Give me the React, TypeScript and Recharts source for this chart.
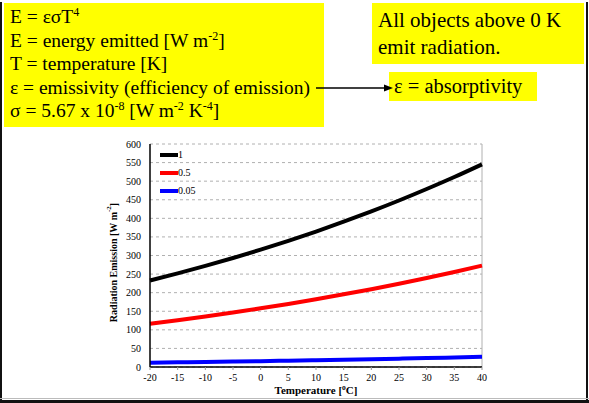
import React from "react";
import {
  LineChart,
  Line,
  XAxis,
  YAxis,
  CartesianGrid,
  ReferenceLine,
} from "recharts";

const temperatures = [-20, -15, -10, -5, 0, 5, 10, 15, 20, 25, 30, 35, 40];
const emis1 = [232.8, 251.8, 271.9, 293.2, 315.6, 339.4, 364.5, 390.9, 418.7, 448.0, 478.9, 511.2, 545.3];
const emis05 = [116.4, 125.9, 136.0, 146.6, 157.8, 169.7, 182.3, 195.5, 209.4, 224.0, 239.4, 255.6, 272.7];
const emis005 = [11.6, 12.6, 13.6, 14.7, 15.8, 17.0, 18.2, 19.5, 20.9, 22.4, 23.9, 25.6, 27.3];
const yTicks = [0, 50, 100, 150, 200, 250, 300, 350, 400, 450, 500, 550, 600];
const xTicks = [-20, -15, -10, -5, 0, 5, 10, 15, 20, 25, 30, 35, 40];
const seriesNames = ["1", "0.5", "0.05"];
const seriesColors = ["#000000", "#ff0000", "#0000ff"];

const data = temperatures.map((t, i) => ({
  t,
  s1: emis1[i],
  s05: emis05[i],
  s005: emis005[i],
}));

const SERIF = "Liberation Serif, Tinos, Times New Roman, DejaVu Serif Condensed, DejaVu Serif, serif";

const YLabel = (props: any) => {
  const vb = props.viewBox || {};
  const cx = 113;
  const cy = vb.y + vb.height / 2 + 7;
  return (
    <text
      x={cx}
      y={cy}
      transform={`rotate(-90, ${cx}, ${cy})`}
      textAnchor="middle"
      dominantBaseline="central"
      style={{ fontFamily: SERIF }}
      fontWeight="bold"
      fontSize={10}
      fill="#000"
    >
      Radiation Emission [W m
      <tspan dy={-4} fontSize={7}>-2</tspan>
      <tspan dy={4}>]</tspan>
    </text>
  );
};

const XLabel = (props: any) => {
  const vb = props.viewBox || {};
  const cx = vb.x + vb.width / 2;
  const cy = 390;
  return (
    <text
      x={cx}
      y={cy}
      textAnchor="middle"
      dominantBaseline="central"
      style={{ fontFamily: SERIF }}
      fontWeight="bold"
      fontSize={11}
      fill="#000"
    >
      Temperature [
      <tspan dy={-3} fontSize={7.5}>o</tspan>
      <tspan dy={3}>C]</tspan>
    </text>
  );
};

const LegendBox = () => (
  <div
    style={{
      position: "absolute",
      left: 160,
      top: 146,
      fontFamily: SERIF,
      fontSize: 10,
      lineHeight: "18px",
    }}
  >
    {seriesNames.map((n, i) => (
      <div key={n} style={{ display: "flex", alignItems: "center", height: 18 }}>
        <div style={{ width: 18, height: 4, background: seriesColors[i] }} />
        <span>{n}</span>
      </div>
    ))}
  </div>
);

const sup = { fontSize: 12, position: "relative", top: -7, lineHeight: 0 } as const;

export default function App() {
  return (
    <div
      style={{
        position: "absolute",
        left: 0,
        top: 0,
        width: 589,
        height: 403,
        background: "#fff",
        overflow: "hidden",
        fontFamily: SERIF,
      }}
    >
      <div style={{ position: "absolute", left: 0, top: 2, width: 2, height: 401, background: "#111" }} />
      <div style={{ position: "absolute", left: 586, top: 2, width: 2, height: 401, background: "#111" }} />
      <div style={{ position: "absolute", left: 0, top: 398, width: 589, height: 1, background: "#bbb" }} />
      <div style={{ position: "absolute", left: 0, top: 400, width: 589, height: 3, background: "#111" }} />

      <div
        style={{
          position: "absolute",
          left: 4,
          top: 3,
          width: 320,
          height: 124,
          background: "#ffff00",
          fontSize: 19.5,
          lineHeight: "23.5px",
          paddingLeft: 6,
          paddingTop: 2,
          boxSizing: "border-box",
          color: "#000",
          whiteSpace: "nowrap",
        }}
      >
        <div>
          E = εσT<span style={sup}>4</span>
        </div>
        <div>
          E = energy emitted [W m<span style={sup}>-2</span>]
        </div>
        <div>T = temperature [K]</div>
        <div>ε = emissivity (efficiency of emission)</div>
        <div>
          σ = 5.67 x 10<span style={sup}>-8</span> [W m<span style={sup}>-2</span> K<span style={sup}>-4</span>]
        </div>
      </div>

      <div
        style={{
          position: "absolute",
          left: 372,
          top: 3,
          width: 212,
          height: 61,
          background: "#ffff00",
          fontSize: 21,
          lineHeight: "27px",
          paddingLeft: 6,
          paddingTop: 4,
          boxSizing: "border-box",
          color: "#000",
          whiteSpace: "nowrap",
        }}
      >
        <div>All objects above 0 K</div>
        <div>emit radiation.</div>
      </div>

      <div
        style={{
          position: "absolute",
          left: 389,
          top: 72,
          width: 148,
          height: 29,
          background: "#ffff00",
          fontSize: 20.5,
          lineHeight: "29px",
          paddingLeft: 5,
          boxSizing: "border-box",
          color: "#000",
          whiteSpace: "nowrap",
        }}
      >
        ε = absorptivity
      </div>

      <svg style={{ position: "absolute", left: 0, top: 0 }} width={589} height={403}>
        <line x1={316} y1={88} x2={386} y2={88} stroke="#000" strokeWidth={1.5} />
        <polygon points="393,88 384,84.5 384,91.5" fill="#000" />
      </svg>

      <div style={{ position: "absolute", left: 0, top: 0 }}>
        <LineChart
          width={589}
          height={403}
          data={data}
          margin={{ top: 144, right: 107, bottom: 6, left: 0 }}
          style={{ fontFamily: SERIF }}
        >
          <CartesianGrid
            horizontal={true}
            vertical={false}
            stroke="#b0b0b0"
            strokeDasharray="3 3"
          />
          <ReferenceLine x={40} stroke="#b0b0b0" strokeWidth={1} />
          <XAxis
            dataKey="t"
            type="number"
            domain={[-20, 40]}
            ticks={xTicks}
            interval={0}
            height={30}
            axisLine={{ stroke: "#000", strokeWidth: 1.5 }}
            tickLine={{ stroke: "#999" }}
            tickSize={3}
            tickMargin={4}
            tick={{ fontSize: 10, fill: "#000", style: { fontFamily: SERIF } }}
            label={<XLabel />}
          />
          <YAxis
            type="number"
            domain={[0, 600]}
            ticks={yTicks}
            interval={0}
            width={150}
            axisLine={{ stroke: "#000", strokeWidth: 1.5 }}
            tickLine={false}
            tickSize={0}
            tickMargin={9}
            tick={{ fontSize: 10, fill: "#000", style: { fontFamily: SERIF } }}
            label={<YLabel />}
          />
          <Line type="monotone" dataKey="s1" stroke={seriesColors[0]} strokeWidth={4} dot={false} isAnimationActive={false} />
          <Line type="monotone" dataKey="s05" stroke={seriesColors[1]} strokeWidth={4} dot={false} isAnimationActive={false} />
          <Line type="monotone" dataKey="s005" stroke={seriesColors[2]} strokeWidth={4} dot={false} isAnimationActive={false} />
        </LineChart>
      </div>
      <LegendBox />
    </div>
  );
}
